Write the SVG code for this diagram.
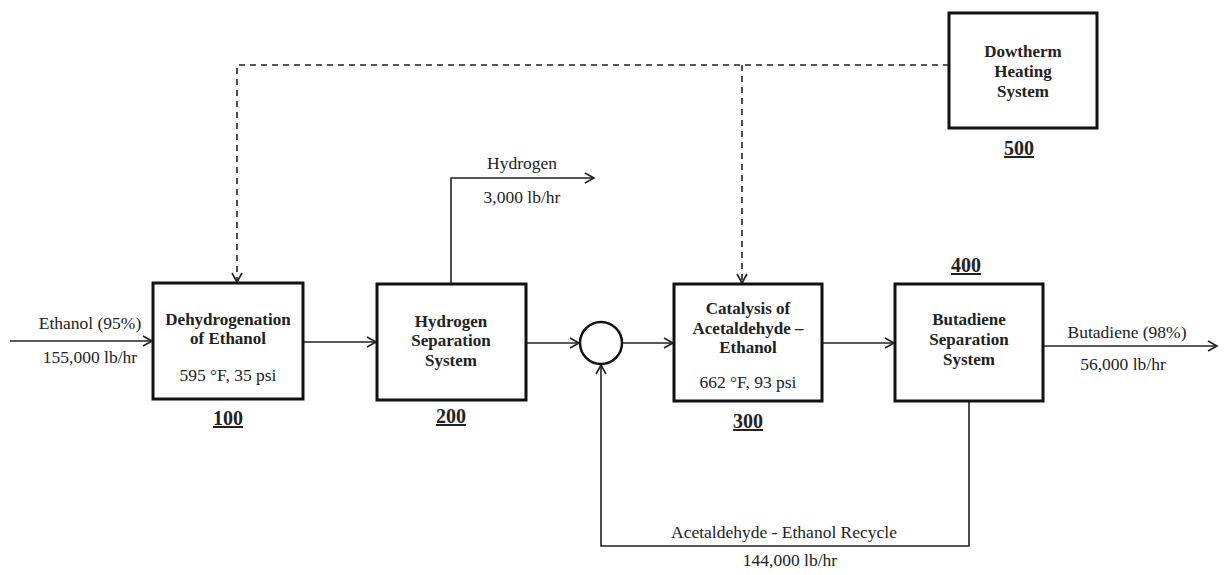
<svg xmlns="http://www.w3.org/2000/svg" width="1224" height="575" viewBox="0 0 1224 575">
<style>
.box{fill:#fff;stroke:#111;stroke-width:3}
.ln{fill:none;stroke:#222;stroke-width:1.6}
.dash{fill:none;stroke:#222;stroke-width:1.6;stroke-dasharray:6 5}
text{font-family:"Liberation Serif","Times New Roman",serif;font-size:17.5px;fill:#222;text-anchor:middle}
.b{font-weight:bold;font-size:17px}
.num{font-weight:bold;font-size:20px;text-decoration:underline}
</style>
<defs>
<marker id="ar" markerWidth="12" markerHeight="12" refX="10" refY="6" orient="auto" markerUnits="userSpaceOnUse">
<path d="M1,1 L10,6 L1,11" fill="none" stroke="#222" stroke-width="1.6"/>
</marker>
</defs>
<rect width="1224" height="575" fill="#fff"/>
<g id="connectors">
<line class="ln" x1="10" y1="341" x2="152" y2="341" marker-end="url(#ar)"/>
<line class="ln" x1="303" y1="342" x2="376" y2="342" marker-end="url(#ar)"/>
<polyline class="ln" points="451,284 451,178 594,178" marker-end="url(#ar)"/>
<line class="ln" x1="526" y1="343" x2="579" y2="343" marker-end="url(#ar)"/>
<line class="ln" x1="622" y1="343" x2="673" y2="343" marker-end="url(#ar)"/>
<line class="ln" x1="822" y1="343" x2="894" y2="343" marker-end="url(#ar)"/>
<line class="ln" x1="1043" y1="346" x2="1217" y2="346" marker-end="url(#ar)"/>
<polyline class="ln" points="969,401 969,546 601,546 601,365" marker-end="url(#ar)"/>
<polyline class="dash" points="949,65 237,65 237,282" marker-end="url(#ar)"/>
<line class="dash" x1="742" y1="65" x2="742" y2="283" marker-end="url(#ar)"/>
<text x="90" y="329">Ethanol (95%)</text>
<text x="90" y="363">155,000 lb/hr</text>
<text x="522" y="169">Hydrogen</text>
<text x="522" y="203">3,000 lb/hr</text>
<text x="1127" y="338">Butadiene (98%)</text>
<text x="1123" y="370">56,000 lb/hr</text>
<text x="784" y="538">Acetaldehyde - Ethanol Recycle</text>
<text x="790" y="566">144,000 lb/hr</text>
</g>
<g id="node100">
<rect class="box" x="153" y="283" width="150" height="116"/>
<text class="b" x="228" y="325">Dehydrogenation</text>
<text class="b" x="228" y="344">of Ethanol</text>
<text x="228" y="381">595 °F, 35 psi</text>
<text class="num" x="228" y="425">100</text>
</g>
<g id="node200">
<rect class="box" x="377" y="284" width="149" height="116"/>
<text class="b" x="451" y="327">Hydrogen</text>
<text class="b" x="451" y="346">Separation</text>
<text class="b" x="451" y="366">System</text>
<text class="num" x="451" y="423">200</text>
</g>
<g id="mixer">
<circle cx="601" cy="343" r="21" fill="#fff" stroke="#111" stroke-width="2.5"/>
</g>
<g id="node300">
<rect class="box" x="674" y="284" width="148" height="117"/>
<text class="b" x="748" y="314">Catalysis of</text>
<text class="b" x="748" y="334">Acetaldehyde –</text>
<text class="b" x="748" y="353">Ethanol</text>
<text x="748" y="388">662 °F, 93 psi</text>
<text class="num" x="748" y="428">300</text>
</g>
<g id="node400">
<rect class="box" x="895" y="284" width="148" height="117"/>
<text class="b" x="969" y="325">Butadiene</text>
<text class="b" x="969" y="345">Separation</text>
<text class="b" x="969" y="365">System</text>
<text class="num" x="966" y="272">400</text>
</g>
<g id="node500">
<rect class="box" x="949" y="13" width="148" height="115"/>
<text class="b" x="1023" y="57">Dowtherm</text>
<text class="b" x="1023" y="77">Heating</text>
<text class="b" x="1023" y="97">System</text>
<text class="num" x="1019" y="155">500</text>
</g>
</svg>
